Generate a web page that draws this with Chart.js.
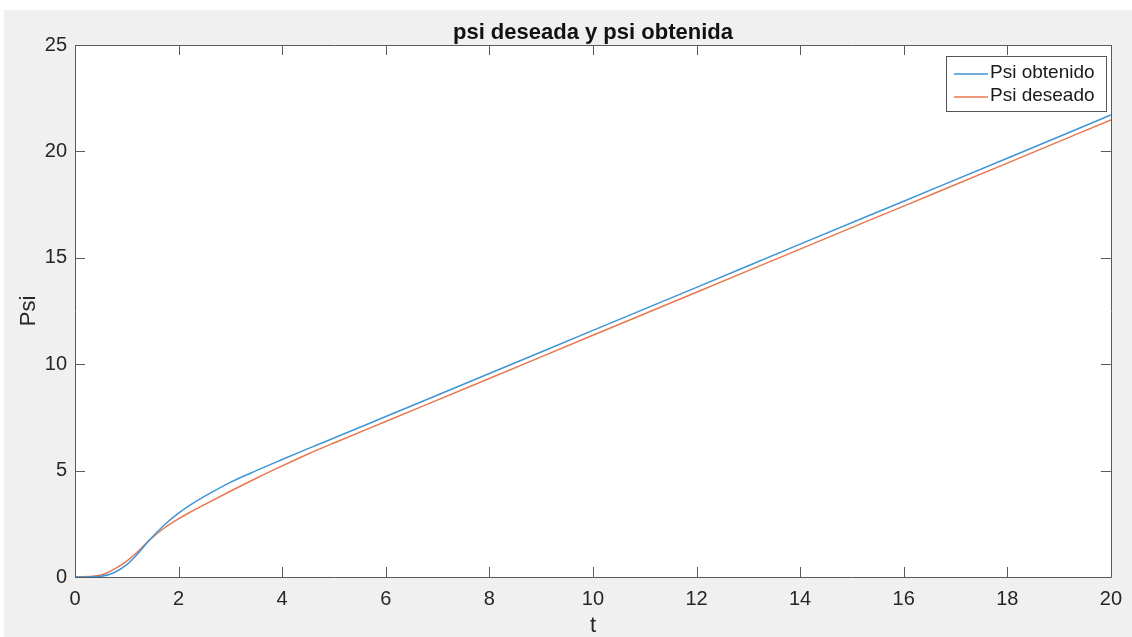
<!DOCTYPE html>
<html><head><meta charset="utf-8">
<script src="https://cdn.jsdelivr.net/npm/chart.js@4/dist/chart.umd.min.js"></script>
<style>html,body{margin:0;padding:0;background:#fff;}#wrap{width:1132px;height:637px;}</style>
</head><body><div id="wrap"><canvas id="c" width="1132" height="637"></canvas></div>
<script>
const tVals = [0, 0.25, 0.5, 0.75, 1, 1.25, 1.43, 1.75, 2, 2.25, 2.5, 3, 3.5, 4, 4.5, 5, 6, 8, 10, 12, 14, 16, 18, 20];
const psiObtenido = [0, 0.005, 0.03, 0.2, 0.58, 1.2, 1.72, 2.5, 3.0, 3.42, 3.79, 4.45, 5.0, 5.52, 6.03, 6.53, 7.54, 9.56, 11.59, 13.61, 15.64, 17.66, 19.68, 21.71];
const psiDeseado = [0, 0.02, 0.09, 0.36, 0.75, 1.28, 1.72, 2.35, 2.74, 3.08, 3.4, 4.03, 4.64, 5.22, 5.78, 6.3, 7.31, 9.33, 11.36, 13.38, 15.41, 17.43, 19.45, 21.48];
const xTicks = [0, 2, 4, 6, 8, 10, 12, 14, 16, 18, 20];
const yTicks = [0, 5, 10, 15, 20, 25];
const seriesNames = ['Psi obtenido', 'Psi deseado'];
const seriesColors = ['#3f95d6', '#e9774f'];
const titleText = 'psi deseada y psi obtenida';

const FONT = '"Liberation Sans", Arial, sans-serif';
const AX = '#5a5a5a';

const bgPlugin = {
  id: 'bg',
  beforeDraw(chart) {
    const {ctx, chartArea: a} = chart;
    ctx.save();
    ctx.fillStyle = '#ffffff';
    ctx.fillRect(0, 0, chart.width, chart.height);
    ctx.fillStyle = '#f0f0f0';
    ctx.fillRect(4, 10, chart.width - 4, chart.height - 10);
    ctx.fillStyle = '#ffffff';
    ctx.fillRect(a.left, a.top, a.right - a.left, a.bottom - a.top);
    ctx.restore();
  },
  afterDraw(chart) {
    const {ctx, chartArea: a, scales} = chart;
    ctx.save();
    ctx.strokeStyle = AX;
    ctx.lineWidth = 1;
    ctx.beginPath();
    ctx.rect(Math.round(a.left) + 0.5, Math.round(a.top) + 0.5, Math.round(a.right - a.left), Math.round(a.bottom - a.top));
    ctx.stroke();
    const tl = 10;
    ctx.beginPath();
    xTicks.forEach(v => {
      const x = Math.round(scales.x.getPixelForValue(v)) + 0.5;
      ctx.moveTo(x, a.bottom); ctx.lineTo(x, a.bottom - tl);
      ctx.moveTo(x, a.top); ctx.lineTo(x, a.top + tl);
    });
    yTicks.forEach(v => {
      const y = Math.round(scales.y.getPixelForValue(v)) + 0.5;
      ctx.moveTo(a.left, y); ctx.lineTo(a.left + tl, y);
      ctx.moveTo(a.right, y); ctx.lineTo(a.right - tl, y);
    });
    ctx.stroke();
    // title
    ctx.fillStyle = '#111';
    ctx.font = 'bold 22px ' + FONT;
    ctx.textAlign = 'center';
    ctx.textBaseline = 'alphabetic';
    ctx.fillText(titleText, (a.left + a.right) / 2, 39);
    // legend
    const lx = 946, ly = 56, lw = 160, lh = 55;
    ctx.fillStyle = '#fff';
    ctx.fillRect(lx, ly, lw, lh);
    ctx.strokeStyle = '#555';
    ctx.lineWidth = 1;
    ctx.strokeRect(lx + 0.5, ly + 0.5, lw, lh);
    ctx.font = '19px ' + FONT;
    ctx.textAlign = 'left';
    ctx.textBaseline = 'middle';
    const rows = [74, 97];
    seriesNames.forEach((n, i) => {
      ctx.strokeStyle = seriesColors[i];
      ctx.lineWidth = 1.4;
      ctx.beginPath();
      ctx.moveTo(954, rows[i]); ctx.lineTo(988, rows[i]);
      ctx.stroke();
      ctx.fillStyle = '#1a1a1a';
      ctx.fillText(n, 990, rows[i] - 1);
    });
    ctx.restore();
  }
};

const mk = (arr) => tVals.map((t, i) => ({x: t, y: arr[i]}));

new Chart(document.getElementById('c'), {
  type: 'scatter',
  data: {
    datasets: [
      {label: seriesNames[0], data: mk(psiObtenido), showLine: true, borderColor: seriesColors[0], borderWidth: 1.5, pointRadius: 0, cubicInterpolationMode: 'monotone', fill: false},
      {label: seriesNames[1], data: mk(psiDeseado), showLine: true, borderColor: seriesColors[1], borderWidth: 1.5, pointRadius: 0, cubicInterpolationMode: 'monotone', fill: false}
    ]
  },
  options: {
    responsive: false,
    animation: false,
    devicePixelRatio: 1,
    layout: {padding: {left: 0, right: 19, top: 45, bottom: 0}},
    plugins: {legend: {display: false}, tooltip: {enabled: false}, title: {display: false}},
    scales: {
      x: {
        type: 'linear', min: 0, max: 20,
        afterBuildTicks: s => { s.ticks = xTicks.map(v => ({value: v})); },
        afterFit: s => { s.height = 60; },
        grid: {display: false, drawTicks: false},
        border: {display: false},
        ticks: {color: '#262626', font: {family: FONT, size: 20}, padding: 10, maxRotation: 0, autoSkip: false},
        title: {display: true, text: 't', color: '#262626', font: {family: FONT, size: 22, lineHeight: 1}, padding: {top: 0, bottom: 0}}
      },
      y: {
        type: 'linear', min: 0, max: 25,
        afterBuildTicks: s => { s.ticks = yTicks.map(v => ({value: v})); },
        afterFit: s => { s.width = 75; },
        grid: {display: false, drawTicks: false},
        border: {display: false},
        ticks: {color: '#262626', font: {family: FONT, size: 20}, padding: 8, autoSkip: false},
        title: {display: true, text: 'Psi', color: '#262626', font: {family: FONT, size: 22, lineHeight: 1}, padding: {top: 18, bottom: 0}}
      }
    }
  },
  plugins: [bgPlugin]
});
</script></body></html>
